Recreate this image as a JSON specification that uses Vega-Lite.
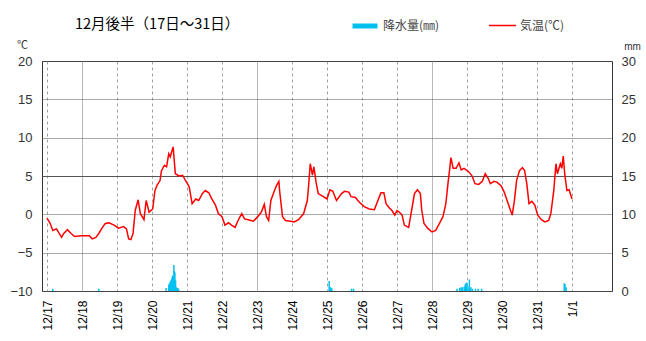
{
  "$schema": "https://vega.github.io/schema/vega-lite/v6.json",
  "width": 570,
  "height": 230,
  "autosize": "none",
  "padding": {"left": 42, "top": 61, "right": 34, "bottom": 50},
  "background": "white",
  "title": {"text": "12月後半（17日～31日）", "anchor": "start", "frame": "group", "dx": 33, "offset": -21, "font": "Noto Sans CJK JP", "fontSize": 14.5, "fontWeight": "normal", "color": "#000"},
  "datasets": {
    "temp": [
      {"t": "2023-12-17T00:00", "v": -0.5}, {"t": "2023-12-17T02:00", "v": -1.1}, {"t": "2023-12-17T04:00", "v": -2.1}, {"t": "2023-12-17T06:30", "v": -1.9},
      {"t": "2023-12-17T10:00", "v": -3.0}, {"t": "2023-12-17T11:30", "v": -2.5}, {"t": "2023-12-17T14:00", "v": -2.0}, {"t": "2023-12-17T16:30", "v": -2.5},
      {"t": "2023-12-17T19:00", "v": -2.9}, {"t": "2023-12-17T23:30", "v": -2.8}, {"t": "2023-12-18T05:00", "v": -2.8}, {"t": "2023-12-18T07:00", "v": -3.2},
      {"t": "2023-12-18T09:30", "v": -3.0}, {"t": "2023-12-18T11:30", "v": -2.5}, {"t": "2023-12-18T14:00", "v": -1.7}, {"t": "2023-12-18T16:00", "v": -1.2},
      {"t": "2023-12-18T18:30", "v": -1.1}, {"t": "2023-12-18T22:00", "v": -1.4}, {"t": "2023-12-19T01:00", "v": -1.8}, {"t": "2023-12-19T04:30", "v": -1.6},
      {"t": "2023-12-19T06:30", "v": -1.9}, {"t": "2023-12-19T08:00", "v": -3.2}, {"t": "2023-12-19T09:30", "v": -3.3}, {"t": "2023-12-19T11:00", "v": -2.5},
      {"t": "2023-12-19T12:30", "v": 0.5}, {"t": "2023-12-19T14:30", "v": 1.9}, {"t": "2023-12-19T16:00", "v": 0.1}, {"t": "2023-12-19T18:30", "v": -0.7},
      {"t": "2023-12-19T20:00", "v": 1.8}, {"t": "2023-12-19T22:00", "v": 0.3}, {"t": "2023-12-20T00:30", "v": 0.7}, {"t": "2023-12-20T02:00", "v": 3.1},
      {"t": "2023-12-20T03:30", "v": 3.8}, {"t": "2023-12-20T05:30", "v": 4.4}, {"t": "2023-12-20T06:30", "v": 5.7}, {"t": "2023-12-20T08:30", "v": 6.4},
      {"t": "2023-12-20T10:00", "v": 6.2}, {"t": "2023-12-20T11:30", "v": 7.9}, {"t": "2023-12-20T12:30", "v": 7.5}, {"t": "2023-12-20T14:30", "v": 8.8},
      {"t": "2023-12-20T16:00", "v": 5.3}, {"t": "2023-12-20T18:30", "v": 5.0}, {"t": "2023-12-20T21:00", "v": 5.1}, {"t": "2023-12-20T23:00", "v": 4.4},
      {"t": "2023-12-21T01:30", "v": 3.6}, {"t": "2023-12-21T03:30", "v": 1.4}, {"t": "2023-12-21T06:00", "v": 2.0}, {"t": "2023-12-21T08:00", "v": 1.8},
      {"t": "2023-12-21T10:30", "v": 2.7}, {"t": "2023-12-21T12:30", "v": 3.1}, {"t": "2023-12-21T15:00", "v": 2.8}, {"t": "2023-12-21T17:00", "v": 2.0},
      {"t": "2023-12-21T19:30", "v": 1.2}, {"t": "2023-12-21T21:30", "v": 0.1}, {"t": "2023-12-22T00:00", "v": -0.3}, {"t": "2023-12-22T02:00", "v": -1.4},
      {"t": "2023-12-22T04:30", "v": -1.1}, {"t": "2023-12-22T06:30", "v": -1.4}, {"t": "2023-12-22T09:00", "v": -1.7}, {"t": "2023-12-22T11:00", "v": -0.8},
      {"t": "2023-12-22T13:30", "v": 0.1}, {"t": "2023-12-22T15:30", "v": -0.6}, {"t": "2023-12-22T18:00", "v": -0.7}, {"t": "2023-12-22T21:30", "v": -0.9},
      {"t": "2023-12-23T00:30", "v": -0.3}, {"t": "2023-12-23T03:00", "v": 0.3}, {"t": "2023-12-23T05:00", "v": 1.3}, {"t": "2023-12-23T06:30", "v": -0.3},
      {"t": "2023-12-23T08:00", "v": -0.8}, {"t": "2023-12-23T09:30", "v": 1.8}, {"t": "2023-12-23T12:00", "v": 3.1}, {"t": "2023-12-23T13:30", "v": 3.8},
      {"t": "2023-12-23T15:00", "v": 4.3}, {"t": "2023-12-23T15:30", "v": 3.1}, {"t": "2023-12-23T17:30", "v": -0.3}, {"t": "2023-12-23T19:30", "v": -0.8},
      {"t": "2023-12-23T23:00", "v": -0.9}, {"t": "2023-12-24T01:30", "v": -1.0}, {"t": "2023-12-24T04:30", "v": -0.7}, {"t": "2023-12-24T08:00", "v": 0.1},
      {"t": "2023-12-24T10:30", "v": 1.8}, {"t": "2023-12-24T11:30", "v": 4.0}, {"t": "2023-12-24T12:30", "v": 6.6}, {"t": "2023-12-24T14:00", "v": 5.1},
      {"t": "2023-12-24T15:00", "v": 6.2}, {"t": "2023-12-24T16:30", "v": 4.2}, {"t": "2023-12-24T18:00", "v": 2.7}, {"t": "2023-12-24T21:30", "v": 2.3},
      {"t": "2023-12-25T00:00", "v": 2.0}, {"t": "2023-12-25T02:00", "v": 3.2}, {"t": "2023-12-25T04:00", "v": 3.0}, {"t": "2023-12-25T06:30", "v": 1.8},
      {"t": "2023-12-25T10:00", "v": 2.7}, {"t": "2023-12-25T12:00", "v": 3.0}, {"t": "2023-12-25T15:00", "v": 2.9}, {"t": "2023-12-25T16:30", "v": 2.3},
      {"t": "2023-12-25T19:30", "v": 2.2}, {"t": "2023-12-25T22:00", "v": 1.6}, {"t": "2023-12-26T01:30", "v": 1.0}, {"t": "2023-12-26T05:00", "v": 0.7},
      {"t": "2023-12-26T08:30", "v": 0.6}, {"t": "2023-12-26T10:30", "v": 1.6}, {"t": "2023-12-26T13:00", "v": 2.8}, {"t": "2023-12-26T15:00", "v": 2.8},
      {"t": "2023-12-26T16:30", "v": 1.4}, {"t": "2023-12-26T18:30", "v": 0.9}, {"t": "2023-12-26T20:30", "v": 0.5}, {"t": "2023-12-26T22:30", "v": -0.1},
      {"t": "2023-12-27T00:00", "v": 0.5}, {"t": "2023-12-27T01:30", "v": 0.3}, {"t": "2023-12-27T03:30", "v": -0.1}, {"t": "2023-12-27T05:00", "v": -1.4},
      {"t": "2023-12-27T08:00", "v": -1.7}, {"t": "2023-12-27T10:00", "v": 0.5}, {"t": "2023-12-27T12:00", "v": 2.7}, {"t": "2023-12-27T14:00", "v": 3.2},
      {"t": "2023-12-27T16:00", "v": 2.7}, {"t": "2023-12-27T17:00", "v": 0.5}, {"t": "2023-12-27T18:30", "v": -1.2}, {"t": "2023-12-27T21:30", "v": -1.9},
      {"t": "2023-12-28T00:00", "v": -2.3}, {"t": "2023-12-28T02:30", "v": -2.1}, {"t": "2023-12-28T04:30", "v": -1.4}, {"t": "2023-12-28T07:30", "v": -0.3},
      {"t": "2023-12-28T09:30", "v": 1.4}, {"t": "2023-12-28T11:00", "v": 4.1}, {"t": "2023-12-28T12:00", "v": 5.7}, {"t": "2023-12-28T13:00", "v": 7.4},
      {"t": "2023-12-28T14:30", "v": 6.0}, {"t": "2023-12-28T16:30", "v": 6.0}, {"t": "2023-12-28T18:30", "v": 6.7}, {"t": "2023-12-28T20:00", "v": 5.8},
      {"t": "2023-12-28T22:00", "v": 6.0}, {"t": "2023-12-29T01:30", "v": 5.5}, {"t": "2023-12-29T03:30", "v": 5.0}, {"t": "2023-12-29T05:30", "v": 4.0},
      {"t": "2023-12-29T08:00", "v": 3.9}, {"t": "2023-12-29T10:30", "v": 4.3}, {"t": "2023-12-29T12:30", "v": 5.3}, {"t": "2023-12-29T14:30", "v": 4.7},
      {"t": "2023-12-29T16:00", "v": 4.0}, {"t": "2023-12-29T18:30", "v": 4.3}, {"t": "2023-12-29T20:30", "v": 4.2}, {"t": "2023-12-29T23:30", "v": 3.7},
      {"t": "2023-12-30T01:30", "v": 2.9}, {"t": "2023-12-30T03:30", "v": 1.8}, {"t": "2023-12-30T05:30", "v": 0.7}, {"t": "2023-12-30T07:00", "v": -0.1},
      {"t": "2023-12-30T08:30", "v": 1.8}, {"t": "2023-12-30T10:00", "v": 4.4}, {"t": "2023-12-30T12:00", "v": 5.7}, {"t": "2023-12-30T14:00", "v": 6.1},
      {"t": "2023-12-30T15:30", "v": 5.7}, {"t": "2023-12-30T17:00", "v": 4.0}, {"t": "2023-12-30T18:30", "v": 1.4}, {"t": "2023-12-30T20:30", "v": 1.7},
      {"t": "2023-12-30T22:30", "v": 1.2}, {"t": "2023-12-31T00:30", "v": -0.1}, {"t": "2023-12-31T03:00", "v": -0.7}, {"t": "2023-12-31T05:30", "v": -1.0},
      {"t": "2023-12-31T08:00", "v": -0.8}, {"t": "2023-12-31T09:30", "v": 0.1}, {"t": "2023-12-31T11:30", "v": 3.1}, {"t": "2023-12-31T13:00", "v": 6.6},
      {"t": "2023-12-31T14:00", "v": 5.3}, {"t": "2023-12-31T16:00", "v": 6.6}, {"t": "2023-12-31T17:00", "v": 6.0}, {"t": "2023-12-31T18:00", "v": 7.6},
      {"t": "2023-12-31T19:00", "v": 5.3}, {"t": "2023-12-31T20:30", "v": 3.1}, {"t": "2023-12-31T22:00", "v": 3.2}, {"t": "2024-01-01T00:00", "v": 2.0}
    ],
    "rain": [
      {"t": "2023-12-17T04:00", "mm": 0.3}, {"t": "2023-12-18T11:30", "mm": 0.3},
      {"t": "2023-12-20T09:40", "mm": 0.4}, {"t": "2023-12-20T11:30", "mm": 0.8}, {"t": "2023-12-20T12:00", "mm": 1.0}, {"t": "2023-12-20T12:30", "mm": 1.2},
      {"t": "2023-12-20T13:00", "mm": 1.4}, {"t": "2023-12-20T13:30", "mm": 1.6}, {"t": "2023-12-20T14:00", "mm": 2.0}, {"t": "2023-12-20T14:30", "mm": 1.8},
      {"t": "2023-12-20T15:00", "mm": 3.4}, {"t": "2023-12-20T15:20", "mm": 2.6}, {"t": "2023-12-20T15:40", "mm": 2.4}, {"t": "2023-12-20T16:10", "mm": 1.4},
      {"t": "2023-12-20T16:40", "mm": 0.5}, {"t": "2023-12-20T17:10", "mm": 0.4}, {"t": "2023-12-20T17:40", "mm": 0.4}, {"t": "2023-12-20T18:10", "mm": 0.3},
      {"t": "2023-12-25T01:30", "mm": 1.3}, {"t": "2023-12-25T02:20", "mm": 0.5}, {"t": "2023-12-25T03:00", "mm": 0.4}, {"t": "2023-12-25T03:20", "mm": 0.3},
      {"t": "2023-12-25T16:50", "mm": 0.3}, {"t": "2023-12-25T18:10", "mm": 0.3},
      {"t": "2023-12-28T17:10", "mm": 0.3}, {"t": "2023-12-28T19:00", "mm": 0.4}, {"t": "2023-12-28T20:00", "mm": 0.5}, {"t": "2023-12-28T21:00", "mm": 0.5},
      {"t": "2023-12-28T22:10", "mm": 0.6}, {"t": "2023-12-28T22:50", "mm": 0.9}, {"t": "2023-12-28T23:20", "mm": 1.0}, {"t": "2023-12-28T23:50", "mm": 1.1},
      {"t": "2023-12-29T00:40", "mm": 0.6}, {"t": "2023-12-29T01:40", "mm": 1.5}, {"t": "2023-12-29T02:40", "mm": 0.5}, {"t": "2023-12-29T03:40", "mm": 0.3},
      {"t": "2023-12-29T05:50", "mm": 0.3}, {"t": "2023-12-29T07:40", "mm": 0.3}, {"t": "2023-12-29T10:00", "mm": 0.3},
      {"t": "2023-12-31T18:40", "mm": 1.0}, {"t": "2023-12-31T19:10", "mm": 0.9}, {"t": "2023-12-31T20:00", "mm": 0.5}
    ]
  },
  "layer": [
    {
      "data": {"name": "rain"},
      "mark": {"type": "bar", "width": 1.5},
      "encoding": {
        "x": {
          "field": "t", "type": "temporal",
          "scale": {"domain": [{"year": 2023, "month": 12, "date": 17}, {"year": 2024, "month": 1, "date": 2}]},
          "axis": {
            "title": null, "domain": false, "ticks": false, "labelAngle": -90, "labelAlign": "right", "labelBaseline": "middle", "labelPadding": 9,
            "labelFont": "Liberation Sans", "labelFontSize": 12, "labelColor": "#000", "labelFlush": false, "labelOverlap": false,
            "values": [
              {"year": 2023, "month": 12, "date": 17}, {"year": 2023, "month": 12, "date": 18}, {"year": 2023, "month": 12, "date": 19}, {"year": 2023, "month": 12, "date": 20},
              {"year": 2023, "month": 12, "date": 21}, {"year": 2023, "month": 12, "date": 22}, {"year": 2023, "month": 12, "date": 23}, {"year": 2023, "month": 12, "date": 24},
              {"year": 2023, "month": 12, "date": 25}, {"year": 2023, "month": 12, "date": 26}, {"year": 2023, "month": 12, "date": 27}, {"year": 2023, "month": 12, "date": 28},
              {"year": 2023, "month": 12, "date": 29}, {"year": 2023, "month": 12, "date": 30}, {"year": 2023, "month": 12, "date": 31}, {"year": 2024, "month": 1, "date": 1}
            ],
            "labelExpr": "(month(datum.value)+1) + '/' + date(datum.value)",
            "grid": true,
            "gridColor": {"condition": {"test": "date(datum.value)==18 || date(datum.value)==23 || date(datum.value)==28", "value": "#b8b8b8"}, "value": "#a0a0a0"},
            "gridDash": {"condition": {"test": "date(datum.value)==18 || date(datum.value)==23 || date(datum.value)==28", "value": []}, "value": [3, 3]}
          }
        },
        "y": {
          "field": "mm", "type": "quantitative",
          "scale": {"domain": [0, 30], "nice": false},
          "axis": {
            "orient": "right", "values": [0, 5, 10, 15, 20, 25, 30], "grid": false, "domain": false, "ticks": false, "labelPadding": 9,
            "labelFont": "Liberation Sans", "labelFontSize": 13, "labelColor": "#333",
            "title": "mm", "titleAngle": 0, "titleX": 20, "titleY": -15, "titleAlign": "center", "titleBaseline": "middle",
            "titleFont": "Liberation Sans", "titleFontSize": 10, "titleFontWeight": "normal", "titleColor": "#333"
          }
        },
        "color": {
          "datum": "降水量(㎜)", "type": "nominal",
          "scale": {"range": ["#00c0f0"]},
          "legend": {
            "title": null, "orient": "none", "legendX": 308, "legendY": -50, "symbolType": "stroke", "symbolSize": 625,
            "symbolStrokeWidth": 5, "symbolStrokeColor": "#00c0f0", "labelFont": "Noto Sans CJK JP", "labelFontSize": 12, "labelColor": "#444", "labelOffset": 3
          }
        }
      }
    },
    {
      "data": {"name": "temp"},
      "mark": {"type": "line", "strokeWidth": 1.5},
      "encoding": {
        "x": {
          "field": "t", "type": "temporal",
          "scale": {"domain": [{"year": 2023, "month": 12, "date": 17}, {"year": 2024, "month": 1, "date": 2}]},
          "axis": {
            "title": null, "domain": false, "ticks": false, "labelAngle": -90, "labelAlign": "right", "labelBaseline": "middle", "labelPadding": 9,
            "labelFont": "Liberation Sans", "labelFontSize": 12, "labelColor": "#000", "labelFlush": false, "labelOverlap": false,
            "values": [
              {"year": 2023, "month": 12, "date": 17}, {"year": 2023, "month": 12, "date": 18}, {"year": 2023, "month": 12, "date": 19}, {"year": 2023, "month": 12, "date": 20},
              {"year": 2023, "month": 12, "date": 21}, {"year": 2023, "month": 12, "date": 22}, {"year": 2023, "month": 12, "date": 23}, {"year": 2023, "month": 12, "date": 24},
              {"year": 2023, "month": 12, "date": 25}, {"year": 2023, "month": 12, "date": 26}, {"year": 2023, "month": 12, "date": 27}, {"year": 2023, "month": 12, "date": 28},
              {"year": 2023, "month": 12, "date": 29}, {"year": 2023, "month": 12, "date": 30}, {"year": 2023, "month": 12, "date": 31}, {"year": 2024, "month": 1, "date": 1}
            ],
            "labelExpr": "(month(datum.value)+1) + '/' + date(datum.value)",
            "grid": true,
            "gridColor": {"condition": {"test": "date(datum.value)==18 || date(datum.value)==23 || date(datum.value)==28", "value": "#b8b8b8"}, "value": "#a0a0a0"},
            "gridDash": {"condition": {"test": "date(datum.value)==18 || date(datum.value)==23 || date(datum.value)==28", "value": []}, "value": [3, 3]}
          }
        },
        "y": {
          "field": "v", "type": "quantitative",
          "scale": {"domain": [-10, 20], "nice": false},
          "axis": {
            "orient": "left", "values": [-10, -5, 0, 5, 10, 15, 20], "grid": true, "domain": false, "ticks": false, "labelPadding": 10,
            "gridColor": "#555", "gridDash": {"condition": {"test": "datum.value == 5", "value": []}, "value": [1, 1]},
            "labelFont": "Liberation Sans", "labelFontSize": 13, "labelColor": "#333",
            "title": "℃", "titleAngle": 0, "titleX": -20, "titleY": -16, "titleAlign": "center", "titleBaseline": "middle",
            "titleFont": "Noto Sans CJK JP", "titleFontSize": 11, "titleFontWeight": "normal", "titleColor": "#333"
          }
        },
        "color": {
          "datum": "気温(℃)", "type": "nominal",
          "scale": {"range": ["#ff0000"]},
          "legend": {
            "title": null, "orient": "none", "legendX": 446, "legendY": -50, "symbolType": "stroke", "symbolSize": 729,
            "symbolStrokeWidth": 1.5, "labelFont": "Noto Sans CJK JP", "labelFontSize": 12, "labelColor": "#444", "labelOffset": 3
          }
        }
      }
    }
  ],
  "resolve": {"scale": {"y": "independent", "color": "independent"}},
  "config": {"view": {"stroke": "#333", "strokeWidth": 1}}
}
